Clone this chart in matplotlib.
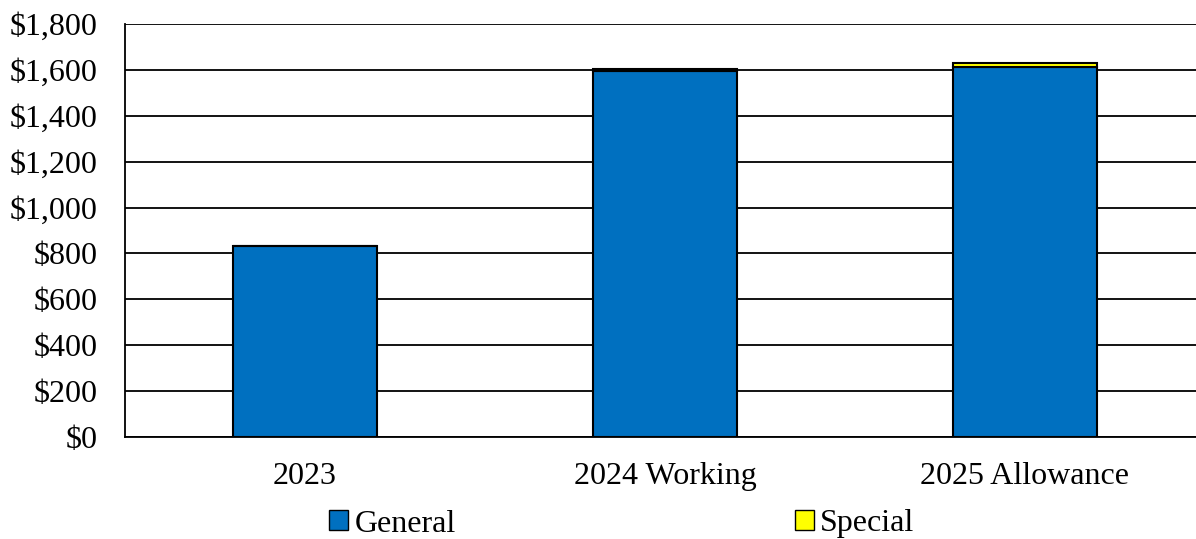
import numpy as np
import matplotlib.pyplot as plt
from matplotlib.ticker import FuncFormatter
from matplotlib.patches import Patch

# data ($)
categories = ['2023', '2024 Working', '2025 Allowance']
general = [832, 1597, 1612]
special = [1, 8, 16]

plt.rcParams['font.family'] = ['Liberation Serif', 'DejaVu Serif']
plt.rcParams['font.size'] = 23

fig = plt.figure(figsize=(11.96, 5.39), dpi=100)
# plot area runs slightly past the right edge of the image, as in the original
ax = fig.add_axes([125 / 1196, 1 - 437 / 539, 1080 / 1196, 413 / 539])

x = np.arange(len(categories))
ax.bar(x, general, width=0.4, color='#0070C0', edgecolor='black', linewidth=1.5, zorder=3)
ax.bar(x, special, width=0.4, bottom=general, color='#FFFF00', edgecolor='black',
       linewidth=1.5, zorder=3)

ax.set_xlim(-0.5, 2.5)
ax.set_ylim(0, 1800)
ax.set_yticks(np.arange(0, 1801, 200))
ax.yaxis.set_major_formatter(FuncFormatter(lambda v, p: '${:,.0f}'.format(v)))
ax.set_xticks(x)
ax.set_xticklabels(categories)
ax.tick_params(axis='y', length=0, pad=20)
ax.tick_params(axis='x', length=0, pad=18)
ax.grid(axis='y', color='black', linewidth=1.3, zorder=0)

for s in ['top', 'right']:
    ax.spines[s].set_visible(False)
ax.spines['left'].set_linewidth(1.3)
ax.spines['bottom'].set_linewidth(1.3)

handles = [Patch(facecolor='#0070C0', edgecolor='black', label='General'),
           Patch(facecolor='#FFFF00', edgecolor='black', label='Special')]
fig.legend(handles=handles, loc='center', bbox_to_anchor=(0.52, 1 - 524 / 539),
           ncol=2, frameon=False, handlelength=0.6, handleheight=0.6,
           handletextpad=0.2, columnspacing=10.6, borderaxespad=0)

fig.savefig('out.png', dpi=100)
